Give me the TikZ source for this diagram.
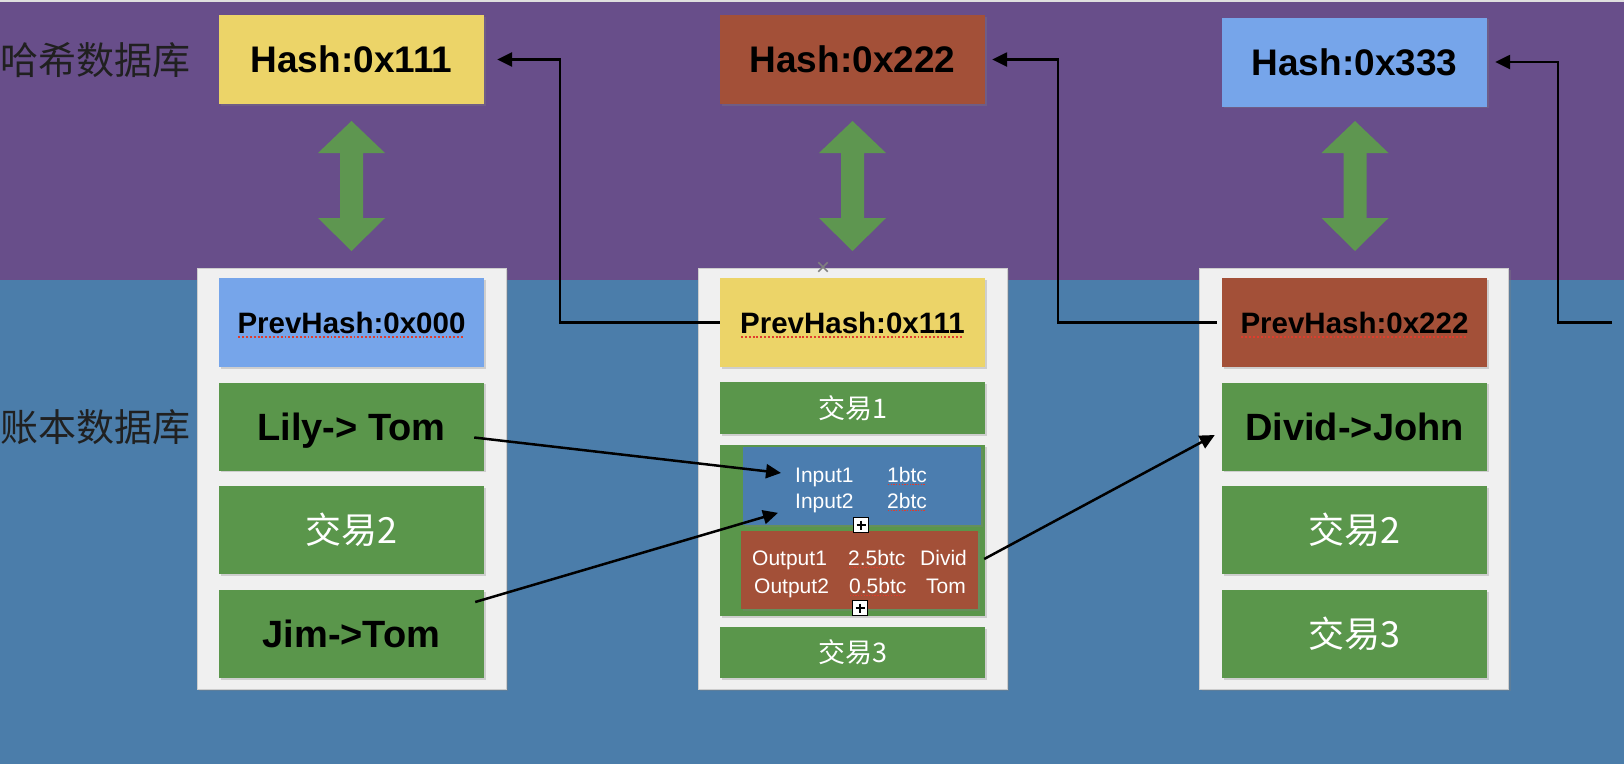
\documentclass[tikz,border=0pt]{standalone}
\usepackage{fontspec}
\setmainfont{Liberation Sans}
\newfontfamily\cjk{Noto Sans CJK SC}
\usetikzlibrary{arrows.meta,shadows,calc}

\definecolor{purplebg}{RGB}{104,78,138}
\definecolor{bluebg}{RGB}{75,125,170}
\definecolor{boxyellow}{RGB}{236,212,104}
\definecolor{boxbrown}{RGB}{163,80,56}
\definecolor{boxlblue}{RGB}{118,165,234}
\definecolor{boxgreen}{RGB}{90,150,75}
\definecolor{arrgreen}{RGB}{94,150,80}
\definecolor{inblue}{RGB}{75,125,175}
\definecolor{framefill}{RGB}{240,240,240}
\definecolor{frameedge}{RGB}{205,205,205}
\definecolor{spellred}{RGB}{225,60,45}
\definecolor{labelgray}{RGB}{32,32,32}

\newcommand\spellu[1]{\setbox0\hbox{#1}\rlap{\copy0}\raisebox{-0.16em}[0pt][0pt]{\textcolor{spellred}{\leaders\hbox to 0.13em{\hss\rule{0.065em}{0.06em}\hss}\hskip\wd0}}}

\tikzset{
  shad/.style={drop shadow={opacity=0.3, shadow xshift=1.5pt, shadow yshift=-1.5pt}},
  hashbox/.style={rectangle, minimum width=265, minimum height=89, inner sep=0, shad, text depth=0pt,
    font=\fontsize{37}{40}\selectfont\bfseries, text=black},
  prevbox/.style={rectangle, minimum width=265, minimum height=89, inner sep=0, shad, text depth=0pt,
    font=\fontsize{29.5}{32}\selectfont\bfseries, text=black},
  greenrow/.style={rectangle, fill=boxgreen, minimum width=265, minimum height=88, inner sep=0, shad},
  txbig/.style={greenrow, text depth=0pt, font=\fontsize{38}{40}\selectfont\bfseries, text=black},
  txcjk/.style={greenrow, font=\cjk\fontsize{36}{40}\selectfont, text=white},
  txsmall/.style={greenrow, font=\cjk\fontsize{27}{30}\selectfont, text=white},
  inbox/.style={rectangle, minimum height=78, inner sep=0, shad},
  io/.style={inner sep=0, anchor=base west, text=white, font=\fontsize{21}{24}\selectfont},
  frame/.style={rectangle, fill=framefill, draw=frameedge, line width=1pt,
    minimum width=309, minimum height=421, inner sep=0,
    drop shadow={opacity=0.35, shadow xshift=2pt, shadow yshift=-2pt}},
  sidelabel/.style={inner sep=0, anchor=west, text=labelgray, font=\cjk\fontsize{38}{40}\selectfont},
  conn/.style={draw=black, line width=2.5pt, -{Triangle[length=15pt,width=14pt]}},
  plusbox/.style={rectangle, draw=black, fill=white, line width=1.2pt, minimum size=15, inner sep=0,
    path picture={\draw[line width=1.2pt]
      ([yshift=-3pt]path picture bounding box.north) -- ([yshift=3pt]path picture bounding box.south)
      ([xshift=3pt]path picture bounding box.west) -- ([xshift=-3pt]path picture bounding box.east);}},
  dblarr/.pic={\fill[arrgreen] (-33.5,153) -- (0,121) -- (33.5,153) -- (11.5,153) -- (11.5,218)
     -- (33.5,218) -- (0,251) -- (-33.5,218) -- (-11.5,218) -- (-11.5,153) -- cycle;}
}

\begin{document}
\begin{tikzpicture}[x=1pt,y=-1pt]
\useasboundingbox (0,0) rectangle (1624,764);
\fill[purplebg] (0,0) rectangle (1624,280);
\fill[bluebg] (0,280) rectangle (1624,764);
\draw[white!75!gray, line width=1.5pt] (0,0.75) -- (1624,0.75);

% side labels
\node[sidelabel] (lbl1) at (0,60) {哈希数据库};
\node[sidelabel] (lbl2) at (0,427) {账本数据库};

% hash boxes
\node[hashbox, fill=boxyellow] (h1) at (351.5,59.5) {Hash:0x111};
\node[hashbox, fill=boxbrown] (h2) at (852.5,59.5) {Hash:0x222};
\node[hashbox, fill=boxlblue] (h3) at (1354.5,62) {Hash:0x333};

% double arrows
\pic at (351.5,0) {dblarr};
\pic at (852.5,0) {dblarr};
\pic at (1355,0) {dblarr};

% frames
\node[frame] (f1) at (351.5,478.5) {};
\node[frame] (f2) at (852.5,478.5) {};
\node[frame] (f3) at (1354,478.5) {};

% block 1
\node[prevbox, fill=boxlblue] (p1) at (351.5,322.5) {\spellu{PrevHash:0x000}};
\node[txbig] (t11) at (351.5,426.5) {Lily-> Tom};
\node[txcjk] (t12) at (351.5,530) {交易2};
\node[txbig] (t13) at (351.5,634) {Jim->Tom};

% block 2
\node[prevbox, fill=boxyellow] (p2) at (852.5,322.5) {\spellu{PrevHash:0x111}};
\node[text=gray, inner sep=0, font=\fontsize{24}{24}\selectfont] (xm) at (823,269) {×};
\node[txsmall, minimum height=52] (t21) at (852.5,408) {交易1};
\node[greenrow, minimum height=171] (t22) at (852.5,530.5) {};
\node[inbox, fill=inblue, minimum width=238] (inb) at (862,486) {};
\node[inbox, fill=boxbrown, minimum width=237] (outb) at (859.5,570) {};
\node[txsmall, minimum height=51] (t23) at (852.5,652.5) {交易3};

\node[io] (in1) at (795,482) {Input1};
\node[io] (in1v) at (887,482) {\spellu{1btc}};
\node[io] (in2) at (795,508) {Input2};
\node[io] (in2v) at (887,508) {\spellu{2btc}};
\node[io] (out1) at (752,565) {Output1};
\node[io] (out1v) at (848,565) {\spellu{2.5btc}};
\node[io] (out1n) at (920,565) {Divid};
\node[io] (out2) at (754,593) {Output2};
\node[io] (out2v) at (849,593) {\spellu{0.5btc}};
\node[io, anchor=base east] (out2n) at (966,593) {Tom};

\node[plusbox] (pb1) at (861,525) {};
\node[plusbox] (pb2) at (860,608) {};

% block 3
\node[prevbox, fill=boxbrown] (p3) at (1354.5,322.5) {\spellu{PrevHash:0x222}};
\node[txbig] (t31) at (1354.5,426.5) {Divid->John};
\node[txcjk] (t32) at (1354.5,530) {交易2};
\node[txcjk] (t33) at (1354.5,634) {交易3};

% hash links
\draw[conn] (p2.west) -- ++(-160,0) |- ([xshift=13pt]h1.east);
\draw[conn] ([xshift=-5pt]p3.west) -- ++(-159,0) |- ([xshift=7pt]h2.east);
\coordinate (rin) at (1612,322.5);
\draw[conn] (rin) -- ++(-54,0) |- ([xshift=8pt]h3.east);

% transaction links
\draw[conn] ([xshift=-10pt,yshift=-11pt]t11.east) -- ([xshift=-14pt,yshift=4pt]in1.west);
\draw[conn] ([xshift=-9pt,yshift=32pt]t13.east) -- ([xshift=-17pt,yshift=-10pt]in2.west);
\draw[conn] ([xshift=6pt,yshift=11pt]outb.east) -- ([xshift=-7pt,yshift=-8.5pt]t31.west);
\end{tikzpicture}
\end{document}
